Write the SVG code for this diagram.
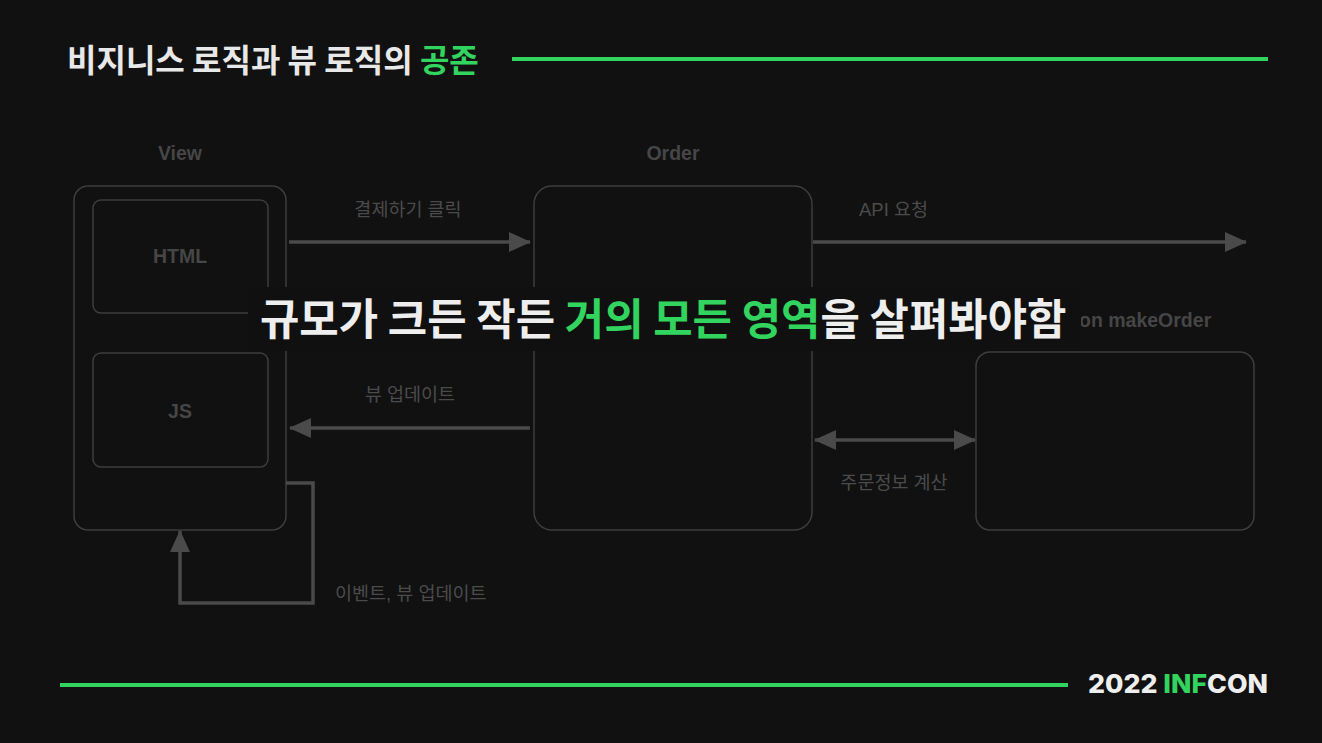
<svg xmlns="http://www.w3.org/2000/svg" width="1322" height="743" viewBox="0 0 1322 743">
  <defs>
    <style>
      .box { fill: none; stroke: #3d3d3d; stroke-width: 1.5; }
      .conn { fill: none; stroke: #4a4a4a; stroke-width: 3.5; }
      .lbl { font-family: "Liberation Sans", "Noto Sans CJK KR", sans-serif; font-size: 18.5px; fill: #4b4b4b; }
      .hdr { font-family: "Liberation Sans", "Noto Sans CJK KR", sans-serif; font-size: 19.5px; font-weight: bold; fill: #464646; text-anchor: middle; }
      .kr { font-family: "Noto Sans CJK KR", sans-serif; font-weight: bold; }
      .green { fill: #32d35e; }
    </style>
    <marker id="ah" viewBox="0 0 22 20" refX="21" refY="10" markerWidth="22" markerHeight="20" markerUnits="userSpaceOnUse" orient="auto-start-reverse">
      <path d="M0,0 L22,10 L0,20 Z" fill="#4a4a4a"/>
    </marker>
  </defs>
  <rect width="1322" height="743" fill="#111111"/>

  <g id="title">
    <text x="67" y="72" class="kr" font-size="32" fill="#e8e8e8">비지니스 로직과 뷰 로직의 <tspan class="green">공존</tspan></text>
    <line x1="512" y1="59" x2="1268" y2="59" stroke="#32d35e" stroke-width="4"/>
  </g>

  <g id="view">
    <text x="180" y="160" class="hdr">View</text>
    <rect x="74" y="186" width="212" height="344" rx="14" class="box"/>
  </g>
  <g id="html">
    <rect x="93" y="200" width="175" height="113" rx="8" class="box"/>
    <text x="180" y="263" class="hdr">HTML</text>
  </g>
  <g id="js">
    <rect x="93" y="353" width="175" height="114" rx="8" class="box"/>
    <text x="180" y="418" class="hdr">JS</text>
  </g>
  <g id="order">
    <text x="673" y="160" class="hdr">Order</text>
    <rect x="534" y="186" width="278" height="344" rx="18" class="box"/>
  </g>
  <g id="makeOrder">
    <rect x="976" y="352" width="278" height="178" rx="14" class="box"/>
    <text x="1079" y="327" class="hdr" style="text-anchor:start">on makeOrder</text>
  </g>

  <g id="connectors">
    <line x1="289" y1="242" x2="530" y2="242" class="conn" marker-end="url(#ah)"/>
    <text x="408" y="216" class="lbl" text-anchor="middle">결제하기 클릭</text>
    <line x1="813" y1="242" x2="1246" y2="242" class="conn" marker-end="url(#ah)"/>
    <text x="859" y="216" class="lbl">API 요청</text>
    <line x1="530" y1="428" x2="290" y2="428" class="conn" marker-end="url(#ah)"/>
    <text x="410" y="401" class="lbl" text-anchor="middle">뷰 업데이트</text>
    <line x1="815" y1="440" x2="975" y2="440" class="conn" marker-start="url(#ah)" marker-end="url(#ah)"/>
    <text x="894" y="489" class="lbl" text-anchor="middle">주문정보 계산</text>
    <polyline points="286,483 313,483 313,603 180,603 180,531" class="conn" marker-end="url(#ah)"/>
    <text x="335" y="600" class="lbl">이벤트, 뷰 업데이트</text>
  </g>

  <g id="overlay">
    <rect x="248" y="287" width="833" height="64" fill="#101010"/>
    <text x="260" y="335" class="kr" font-size="42.8" fill="#eeeeee">규모가 크든 작든 <tspan class="green">거의 모든 영역</tspan>을 살펴봐야함</text>
  </g>

  <g id="footer">
    <line x1="60" y1="685" x2="1068" y2="685" stroke="#32d35e" stroke-width="4"/>
    <text x="1088" y="693" font-family="Inter, 'Liberation Sans', sans-serif" font-weight="800" font-size="26" fill="#eeeeee" textLength="180" lengthAdjust="spacingAndGlyphs">2022 <tspan class="green">INF</tspan>CON</text>
  </g>
</svg>
